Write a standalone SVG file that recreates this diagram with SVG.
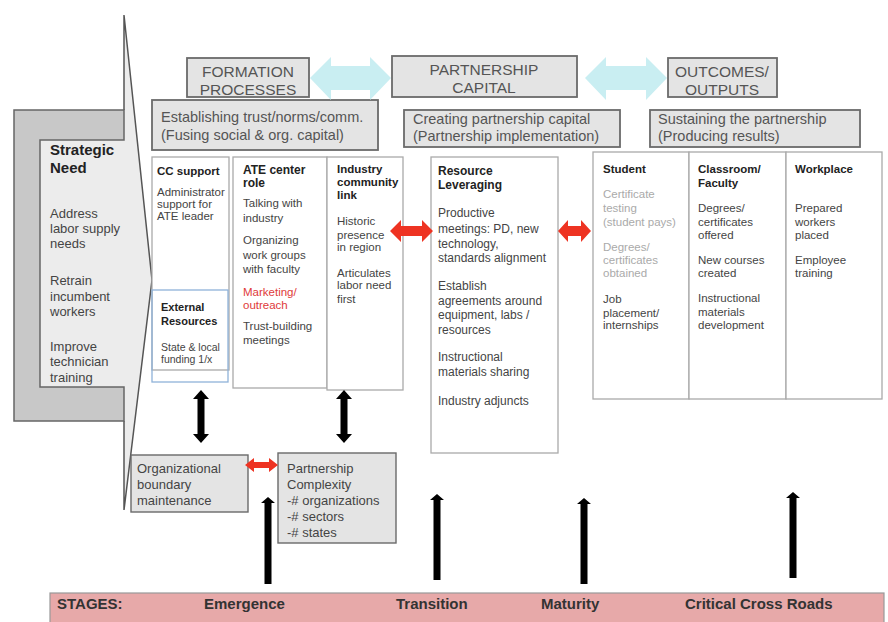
<svg xmlns="http://www.w3.org/2000/svg" width="888" height="622" viewBox="0 0 888 622">
<style>
text{font-family:"Liberation Sans",Arial,sans-serif;fill:#444}
.hd{font-size:15.5px;fill:#555;text-anchor:middle}
.sub{font-size:14.5px;fill:#555}
.gbox{fill:#e4e4e4;stroke:#6a6a6a;stroke-width:1.8}
.wbox{fill:#fff;stroke:#aaa;stroke-width:1.3}
.b{font-weight:bold;fill:#222}
.s{font-size:11.5px}
.m{font-size:13px}
.red{fill:#e03a3a}
.lt{fill:#aaa}
.cyan{fill:#c9eef2}
.rarr{fill:#ee3322}
.karr{fill:#000}
.st{font-size:15px;font-weight:bold;fill:#333}
</style>
<rect width="888" height="622" fill="#fff"/>

<g id="strategic-need">
  <polygon points="124,15 152,280 124,510" fill="#ececec"/>
  <path d="M124,110 V15 L152,280 L124,510 V421" fill="none" stroke="#555" stroke-width="1.5"/>
  <rect x="40" y="140" width="86" height="247" fill="#ececec"/>
  <text class="b" x="50" y="155" style="font-size:15px">Strategic</text>
  <text class="b" x="50" y="173" style="font-size:15px">Need</text>
  <text class="m" x="50" y="218">Address</text>
  <text class="m" x="50" y="233">labor supply</text>
  <text class="m" x="50" y="248">needs</text>
  <text class="m" x="50" y="285">Retrain</text>
  <text class="m" x="50" y="301">incumbent</text>
  <text class="m" x="50" y="316">workers</text>
  <text class="m" x="50" y="351">Improve</text>
  <text class="m" x="50" y="366">technician</text>
  <text class="m" x="50" y="382">training</text>
  <path d="M124,110 H14 V421 H124 V387 H40 V140 H124 Z" fill="#c8c8c8" stroke="#666" stroke-width="1.5"/>
</g>

<g id="formation-processes">
  <rect class="gbox" x="187" y="58" width="122" height="39"/>
  <text class="hd" x="248" y="77">FORMATION</text>
  <text class="hd" x="248" y="95">PROCESSES</text>
</g>
<g id="partnership-capital">
  <rect class="gbox" x="392" y="56" width="185" height="41"/>
  <text class="hd" x="484" y="75">PARTNERSHIP</text>
  <text class="hd" x="484" y="93">CAPITAL</text>
</g>
<g id="outcomes-outputs">
  <rect class="gbox" x="668" y="58" width="109" height="39"/>
  <text class="hd" x="722" y="77">OUTCOMES/</text>
  <text class="hd" x="722" y="95">OUTPUTS</text>
</g>

<g id="establishing">
  <rect class="gbox" x="152" y="100" width="226" height="50"/>
  <text class="sub" x="161" y="122">Establishing trust/norms/comm.</text>
  <text class="sub" x="161" y="140">(Fusing social &amp; org. capital)</text>
</g>
<g id="creating">
  <rect class="gbox" x="404" y="110" width="216" height="37"/>
  <text class="sub" x="413" y="124">Creating partnership capital</text>
  <text class="sub" x="413" y="141">(Partnership implementation)</text>
</g>
<g id="sustaining">
  <rect class="gbox" x="650" y="110" width="210" height="37"/>
  <text class="sub" x="658" y="124">Sustaining the partnership</text>
  <text class="sub" x="658" y="141">(Producing results)</text>
</g>

<g id="cc-support">
  <rect class="wbox" x="152" y="157" width="77" height="213"/>
  <text class="b" x="157" y="175" style="font-size:11.5px">CC support</text>
  <text class="s" x="157" y="196">Administrator</text>
  <text class="s" x="157" y="208">support for</text>
  <text class="s" x="157" y="220">ATE leader</text>
</g>
<g id="external-resources">
  <rect x="152" y="290" width="76" height="92" fill="none" stroke="#8fb2d9" stroke-width="1.3"/>
  <text class="b" x="161" y="311" style="font-size:11px">External</text>
  <text class="b" x="161" y="325" style="font-size:11px">Resources</text>
  <text x="161" y="351" style="font-size:10.5px">State &amp; local</text>
  <text x="161" y="363" style="font-size:10.5px">funding 1/x</text>
</g>
<g id="ate-center">
  <rect class="wbox" x="233" y="157" width="94" height="231"/>
  <text class="b" x="243" y="174" style="font-size:12px">ATE center</text>
  <text class="b" x="243" y="187" style="font-size:12px">role</text>
  <text class="s" x="243" y="207">Talking with</text>
  <text class="s" x="243" y="222">industry</text>
  <text class="s" x="243" y="244">Organizing</text>
  <text class="s" x="243" y="259">work groups</text>
  <text class="s" x="243" y="273">with faculty</text>
  <text class="s red" x="243" y="296">Marketing/</text>
  <text class="s red" x="243" y="309">outreach</text>
  <text class="s" x="243" y="330">Trust-building</text>
  <text class="s" x="243" y="344">meetings</text>
</g>
<g id="industry-link">
  <rect class="wbox" x="327" y="157" width="76" height="233"/>
  <text class="b" x="337" y="173" style="font-size:11.5px">Industry</text>
  <text class="b" x="337" y="186" style="font-size:11.5px">community</text>
  <text class="b" x="337" y="199" style="font-size:11.5px">link</text>
  <text class="s" x="337" y="225">Historic</text>
  <text class="s" x="337" y="239">presence</text>
  <text class="s" x="337" y="251">in region</text>
  <text class="s" x="337" y="277">Articulates</text>
  <text class="s" x="337" y="289">labor need</text>
  <text class="s" x="337" y="303">first</text>
</g>

<g id="resource-leveraging">
  <rect class="wbox" x="431" y="157" width="127" height="296"/>
  <text class="b" x="438" y="175" style="font-size:12px">Resource</text>
  <text class="b" x="438" y="189" style="font-size:12px">Leveraging</text>
  <text x="438" y="217" style="font-size:12px">Productive</text>
  <text x="438" y="233" style="font-size:12px">meetings: PD, new</text>
  <text x="438" y="248" style="font-size:12px">technology,</text>
  <text x="438" y="262" style="font-size:12px">standards alignment</text>
  <text x="438" y="290" style="font-size:12px">Establish</text>
  <text x="438" y="305" style="font-size:12px">agreements around</text>
  <text x="438" y="319" style="font-size:12px">equipment, labs /</text>
  <text x="438" y="334" style="font-size:12px">resources</text>
  <text x="438" y="361" style="font-size:12px">Instructional</text>
  <text x="438" y="376" style="font-size:12px">materials sharing</text>
  <text x="438" y="405" style="font-size:12px">Industry adjuncts</text>
</g>

<g id="student">
  <rect class="wbox" x="593" y="152" width="96" height="247"/>
  <text class="b" x="603" y="173" style="font-size:11.5px">Student</text>
  <text class="s lt" x="603" y="198">Certificate</text>
  <text class="s lt" x="603" y="212">testing</text>
  <text class="s lt" x="603" y="226">(student pays)</text>
  <text class="s lt" x="603" y="251">Degrees/</text>
  <text class="s lt" x="603" y="264">certificates</text>
  <text class="s lt" x="603" y="277">obtained</text>
  <text class="s" x="603" y="303">Job</text>
  <text class="s" x="603" y="317">placement/</text>
  <text class="s" x="603" y="329">internships</text>
</g>
<g id="classroom-faculty">
  <rect class="wbox" x="689" y="152" width="97" height="247"/>
  <text class="b" x="698" y="173" style="font-size:11.5px">Classroom/</text>
  <text class="b" x="698" y="187" style="font-size:11.5px">Faculty</text>
  <text class="s" x="698" y="212">Degrees/</text>
  <text class="s" x="698" y="226">certificates</text>
  <text class="s" x="698" y="239">offered</text>
  <text class="s" x="698" y="264">New courses</text>
  <text class="s" x="698" y="277">created</text>
  <text class="s" x="698" y="302">Instructional</text>
  <text class="s" x="698" y="316">materials</text>
  <text class="s" x="698" y="329">development</text>
</g>
<g id="workplace">
  <rect class="wbox" x="786" y="152" width="96" height="247"/>
  <text class="b" x="795" y="173" style="font-size:11.5px">Workplace</text>
  <text class="s" x="795" y="212">Prepared</text>
  <text class="s" x="795" y="226">workers</text>
  <text class="s" x="795" y="239">placed</text>
  <text class="s" x="795" y="264">Employee</text>
  <text class="s" x="795" y="277">training</text>
</g>

<g id="org-boundary">
  <rect class="gbox" x="131" y="455" width="117" height="57" style="stroke-width:1.4"/>
  <text class="m" x="137" y="473">Organizational</text>
  <text class="m" x="137" y="489">boundary</text>
  <text class="m" x="137" y="505">maintenance</text>
</g>
<g id="partnership-complexity">
  <rect class="gbox" x="278" y="453" width="118" height="90" style="stroke-width:1.4"/>
  <text class="m" x="287" y="473">Partnership</text>
  <text class="m" x="287" y="489">Complexity</text>
  <text class="m" x="287" y="505">-# organizations</text>
  <text class="m" x="287" y="521">-# sectors</text>
  <text class="m" x="287" y="537">-# states</text>
</g>

<g id="stages">
  <rect x="50" y="593" width="834" height="36" fill="#e7a9a9" stroke="#999" stroke-width="1.2"/>
  <text class="st" x="57" y="609">STAGES:</text>
  <text class="st" x="204" y="609">Emergence</text>
  <text class="st" x="396" y="609">Transition</text>
  <text class="st" x="541" y="609">Maturity</text>
  <text class="st" x="685" y="609">Critical Cross Roads</text>
</g>

<g id="connectors">
  <polygon class="cyan" points="310,78 331,57 331,66 370,66 370,57 391,78 370,100 370,90 331,90 331,100"/>
  <polygon class="cyan" points="585,78 606,57 606,66 646,66 646,57 667,78 646,100 646,90 606,90 606,100"/>
  <polygon class="rarr" points="390,231 401,220 401,226 422,226 422,220 433,231 422,242 422,236 401,236 401,242"/>
  <polygon class="rarr" points="558,231 568,220 568,226 581,226 581,220 591,231 581,242 581,236 568,236 568,242"/>
  <polygon class="rarr" points="245,465 254,458 254,462 269,462 269,458 278,465 269,472 269,468 254,468 254,472"/>
  <polygon class="karr" points="201,390 209,399 204.5,399 204.5,434 209,434 201,443 193,434 197.5,434 197.5,399 193,399"/>
  <polygon class="karr" points="344,390 352,399 347.5,399 347.5,434 352,434 344,443 336,434 340.5,434 340.5,399 336,399"/>
  <polygon class="karr" points="268,497 275,503 271.5,503 271.5,584 264.5,584 264.5,503 261,503"/>
  <polygon class="karr" points="437,494 444,500 440.5,500 440.5,580 433.5,580 433.5,500 430,500"/>
  <polygon class="karr" points="584,498 591,504 587.5,504 587.5,584 580.5,584 580.5,504 577,504"/>
  <polygon class="karr" points="793,492 800,498 796.5,498 796.5,578 789.5,578 789.5,498 786,498"/>
</g>
</svg>
